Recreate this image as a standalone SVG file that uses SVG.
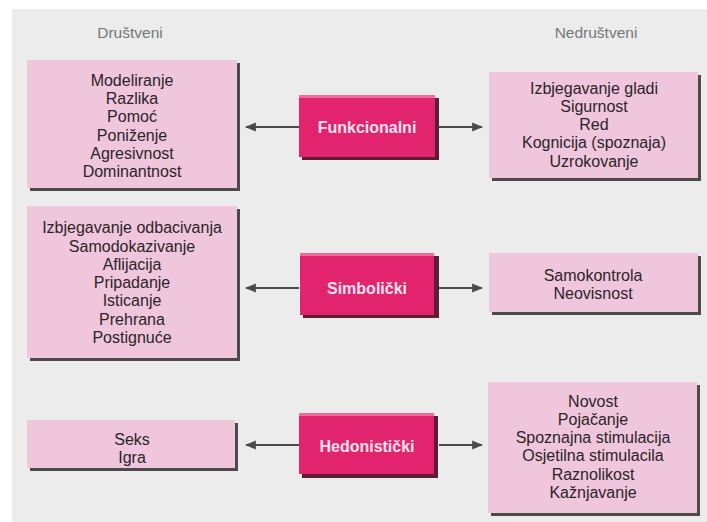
<svg xmlns="http://www.w3.org/2000/svg" width="707" height="522" viewBox="0 0 707 522">
<defs>
<style>
.bg{fill:#ececec}
.lbox{fill:#f0c6dc}
.lsh{fill:#4e4a4c}
.mbox{fill:#e2246f}
.mtop{fill:#f06a9c}
.msh{fill:#5e1d34}
.t{font-family:"Liberation Sans",Arial,sans-serif;font-size:16px;fill:#2a2528;text-anchor:middle}
.h{font-family:"Liberation Sans",Arial,sans-serif;font-size:15.5px;fill:#777777;text-anchor:middle}
.m{font-family:"Liberation Sans",Arial,sans-serif;font-size:16px;font-weight:bold;fill:#fbe3ee;text-anchor:middle}
.c{stroke:#4a4a4a;stroke-width:2;fill:none}
</style>
<marker id="ah" viewBox="0 0 10 10" refX="9" refY="5" markerWidth="5.5" markerHeight="5.5" orient="auto-start-reverse" markerUnits="strokeWidth">
<path d="M0,1 L10,5 L0,9 Z" fill="#4a4a4a"/>
</marker>
</defs>
<rect width="707" height="522" fill="#ffffff"/>
<rect class="bg" x="12" y="9" width="695" height="513"/>

<text class="h" x="130" y="38">Društveni</text>
<text class="h" x="596" y="38">Nedruštveni</text>

<g id="connectors">
<line class="c" x1="299" y1="127" x2="246" y2="127" marker-end="url(#ah)"/>
<line class="c" x1="439" y1="127" x2="482" y2="127" marker-end="url(#ah)"/>
<line class="c" x1="299" y1="288" x2="246" y2="288" marker-end="url(#ah)"/>
<line class="c" x1="439" y1="288" x2="482" y2="288" marker-end="url(#ah)"/>
<line class="c" x1="299" y1="445" x2="246" y2="445" marker-end="url(#ah)"/>
<line class="c" x1="439" y1="445" x2="482" y2="445" marker-end="url(#ah)"/>
</g>

<g id="drustveni-funkcionalni">
<rect class="lsh" x="30" y="63" width="210" height="128"/>
<rect class="lbox" x="27" y="60" width="210" height="128"/>
<text class="t" x="132" y="86">Modeliranje</text>
<text class="t" x="132" y="104">Razlika</text>
<text class="t" x="132" y="122">Pomoć</text>
<text class="t" x="132" y="141">Poniženje</text>
<text class="t" x="132" y="159">Agresivnost</text>
<text class="t" x="132" y="177">Dominantnost</text>
</g>

<g id="funkcionalni">
<rect class="msh" x="302" y="98" width="137" height="62"/>
<rect class="mbox" x="299" y="95" width="136" height="62"/>
<rect class="mtop" x="299" y="95" width="136" height="3"/>
<text class="m" x="367" y="133">Funkcionalni</text>
</g>

<g id="nedrustveni-funkcionalni">
<rect class="lsh" x="492" y="75" width="209" height="106"/>
<rect class="lbox" x="489" y="72" width="209" height="106"/>
<text class="t" x="594" y="94">Izbjegavanje gladi</text>
<text class="t" x="594" y="112">Sigurnost</text>
<text class="t" x="594" y="130">Red</text>
<text class="t" x="594" y="148">Kognicija (spoznaja)</text>
<text class="t" x="594" y="167">Uzrokovanje</text>
</g>

<g id="drustveni-simbolicki">
<rect class="lsh" x="30" y="209" width="210" height="152"/>
<rect class="lbox" x="27" y="206" width="210" height="152"/>
<text class="t" x="132" y="233">Izbjegavanje odbacivanja</text>
<text class="t" x="132" y="252">Samodokazivanje</text>
<text class="t" x="132" y="270">Aflijacija</text>
<text class="t" x="132" y="288">Pripadanje</text>
<text class="t" x="132" y="306">Isticanje</text>
<text class="t" x="132" y="325">Prehrana</text>
<text class="t" x="132" y="343">Postignuće</text>
</g>

<g id="simbolicki">
<rect class="msh" x="303" y="256" width="136" height="62"/>
<rect class="mbox" x="300" y="253" width="134" height="62"/>
<rect class="mtop" x="300" y="253" width="134" height="3"/>
<text class="m" x="367" y="294">Simbolički</text>
</g>

<g id="nedrustveni-simbolicki">
<rect class="lsh" x="492" y="256" width="209" height="59"/>
<rect class="lbox" x="489" y="253" width="209" height="59"/>
<text class="t" x="593" y="281">Samokontrola</text>
<text class="t" x="593" y="299">Neovisnost</text>
</g>

<g id="drustveni-hedonisticki">
<rect class="lsh" x="30" y="423" width="208" height="48"/>
<rect class="lbox" x="27" y="420" width="208" height="48"/>
<text class="t" x="132" y="445">Seks</text>
<text class="t" x="132" y="463">Igra</text>
</g>

<g id="hedonisticki">
<rect class="msh" x="302" y="416" width="136" height="62"/>
<rect class="mbox" x="299" y="413" width="135" height="61"/>
<rect class="mtop" x="299" y="413" width="135" height="3"/>
<text class="m" x="367" y="452">Hedonistički</text>
</g>

<g id="nedrustveni-hedonisticki">
<rect class="lsh" x="491" y="385" width="209" height="131"/>
<rect class="lbox" x="488" y="382" width="209" height="131"/>
<text class="t" x="593" y="407">Novost</text>
<text class="t" x="593" y="425">Pojačanje</text>
<text class="t" x="593" y="443">Spoznajna stimulacija</text>
<text class="t" x="593" y="461">Osjetilna stimulacila</text>
<text class="t" x="593" y="480">Raznolikost</text>
<text class="t" x="593" y="498">Kažnjavanje</text>
</g>
</svg>
